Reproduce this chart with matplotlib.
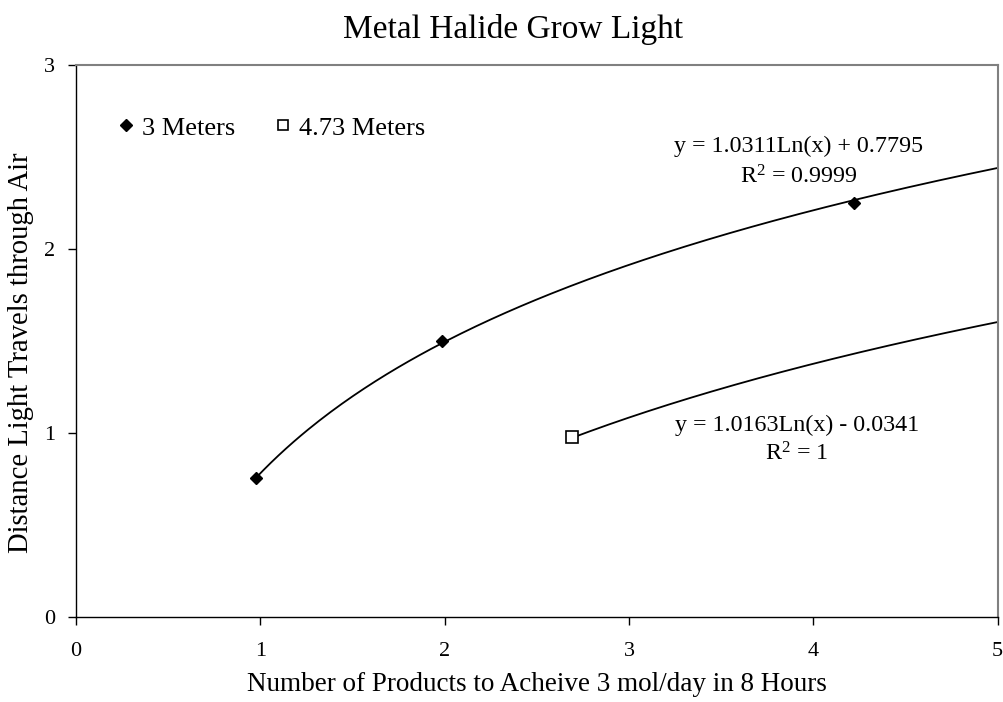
import numpy as np
import matplotlib
matplotlib.use("Agg")
import matplotlib.pyplot as plt

plt.rcParams['font.family'] = ['Liberation Serif', 'DejaVu Serif']
plt.rcParams['mathtext.fontset'] = 'custom'
plt.rcParams['mathtext.rm'] = 'Liberation Serif'
plt.rcParams['mathtext.it'] = 'Liberation Serif:italic'

# Data
series_names = ["3 Meters", "4.73 Meters"]
x_3m = [0.977, 1.984, 4.22]
y_3m = [0.752, 1.50, 2.247]
x_473m = [2.693]
y_473m = [0.975]
# Logarithmic trendlines: y = a*ln(x) + b
trend_3m = (1.0311, 0.7795)
trend_473m = (1.0163, -0.0341)
eq_3m = ["y = 1.0311Ln(x) + 0.7795", r"R$^{2}$ = 0.9999"]
eq_473m = ["y = 1.0163Ln(x) - 0.0341", r"R$^{2}$ = 1"]
x_ticks = [0, 1, 2, 3, 4, 5]
y_ticks = [0, 1, 2, 3]

fig = plt.figure(figsize=(10.04, 7.02), dpi=100)
ax = fig.add_axes([0.0757, 0.1215, 0.918, 0.7863])

xmax = 5
for xs, (a, b) in ((x_3m, trend_3m), (x_473m, trend_473m)):
    xt = np.linspace(min(xs), xmax, 200)
    ax.plot(xt, a * np.log(xt) + b, color='black', lw=1.3, zorder=2)

ax.plot(x_3m, y_3m, linestyle='none', marker='D', ms=6.6, color='black',
        label=series_names[0], zorder=3)
ax.plot(x_473m, y_473m, linestyle='none', marker='s', ms=8.0, mfc='white',
        mec='black', mew=1.2, label=series_names[1], zorder=3)

ax.set_xlim(0, 5)
ax.set_ylim(0, 3)
ax.set_xticks(x_ticks)
ax.set_yticks(y_ticks)
ax.tick_params(direction='out', length=6, width=1, labelsize=16, color='black')
ax.tick_params(axis='x', pad=12)
ax.tick_params(axis='y', pad=9)

for s in ('top', 'right'):
    ax.spines[s].set_color('#808080')
    ax.spines[s].set_linewidth(1.5)
for s in ('left', 'bottom'):
    ax.spines[s].set_color('black')
    ax.spines[s].set_linewidth(1.0)

ax.set_xlabel("Number of Products to Acheive 3 mol/day in 8 Hours", fontsize=19.5)
ax.set_ylabel("Distance Light Travels through Air", fontsize=20.6)
ax.xaxis.set_label_coords(0.5, -0.100)
ax.yaxis.set_label_coords(-0.0456, 0.478)
fig.text(513 / 1004, 1 - 38 / 702, "Metal Halide Grow Light", fontsize=24,
         ha='center', va='baseline')

ax.text(3.92, 2.558, eq_3m[0], fontsize=17.3, ha='center', va='center')
ax.text(3.92, 2.391, eq_3m[1], fontsize=17.3, ha='center', va='center')
ax.text(3.91, 1.038, eq_473m[0], fontsize=17.3, ha='center', va='center')
ax.text(3.91, 0.883, eq_473m[1], fontsize=17.3, ha='center', va='center')

leg = ax.legend(loc='upper left', bbox_to_anchor=(0.036, 0.926), ncol=2,
                frameon=False, fontsize=19, handlelength=0.5, handletextpad=0.35,
                columnspacing=1.55, markerscale=0.85, borderaxespad=0)

fig.savefig("out.png", dpi=100, facecolor='white')
